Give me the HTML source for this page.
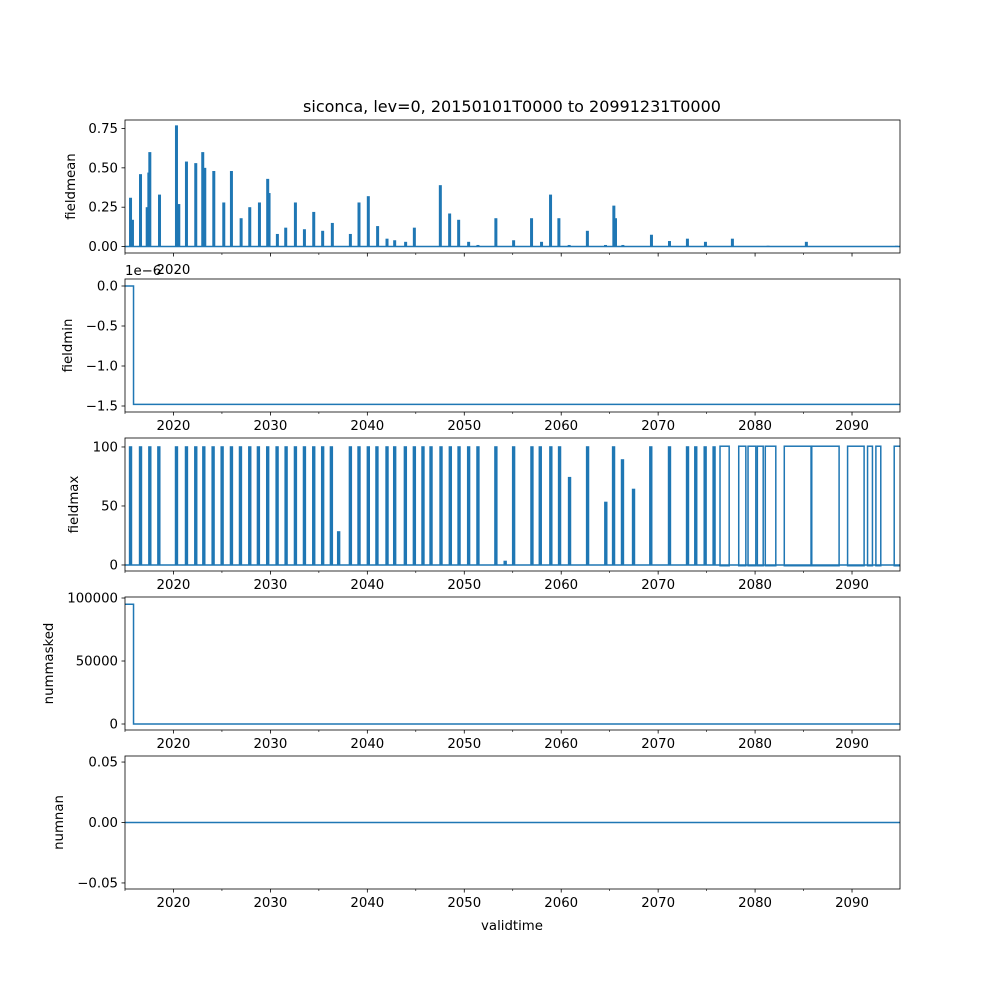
<!DOCTYPE html>
<html><head><meta charset="utf-8"><style>
body{margin:0;background:#fff}
svg{display:block;font-family:"DejaVu Sans","Liberation Sans",sans-serif}
</style></head><body>
<svg id="fig" width="1000" height="1000" viewBox="0 0 1000 1000"></svg>
<script>
// ---- data ----
const meanYears=[2015.57,2015.77,2016.6,2017.29,2017.46,2017.56,2018.56,2020.31,2020.55,2021.34,2022.30,2023.02,2023.23,2024.16,2025.19,2025.98,2026.98,2027.87,2028.87,2029.72,2029.86,2030.72,2031.58,2032.58,2033.51,2034.47,2035.39,2036.39,2038.25,2039.14,2040.10,2041.06,2042.03,2042.82,2043.95,2044.85,2047.53,2048.49,2049.42,2050.45,2051.41,2053.26,2055.09,2056.94,2057.97,2058.9,2059.76,2060.82,2062.7,2064.57,2065.43,2065.6,2066.36,2069.31,2071.17,2073.02,2074.88,2077.66,2081.34,2085.29,2094.6];
const meanValues=[0.31,0.17,0.46,0.25,0.47,0.60,0.33,0.77,0.27,0.54,0.53,0.60,0.50,0.48,0.28,0.48,0.18,0.25,0.28,0.43,0.34,0.08,0.12,0.28,0.11,0.22,0.10,0.15,0.08,0.28,0.32,0.13,0.05,0.04,0.03,0.12,0.39,0.21,0.17,0.03,0.01,0.18,0.04,0.18,0.03,0.33,0.18,0.01,0.10,0.01,0.26,0.18,0.01,0.075,0.035,0.05,0.03,0.05,0.005,0.03,0.005];
const maxPulseYears=[2015.57,2016.6,2017.56,2018.49,2020.31,2021.34,2022.30,2023.13,2024.09,2025.02,2025.98,2026.91,2027.87,2028.76,2029.72,2030.69,2031.62,2032.58,2033.51,2034.47,2035.39,2036.29,2037.04,2038.25,2039.14,2040.10,2040.99,2042.03,2042.82,2043.92,2044.85,2045.74,2046.57,2047.6,2048.56,2049.46,2050.45,2051.41,2053.26,2054.22,2055.09,2056.98,2057.84,2058.93,2059.83,2060.86,2062.72,2064.6,2065.4,2066.32,2067.46,2069.24,2071.17,2073.03,2073.88,2074.85,2075.77];
const maxPulseValues=[100,100,100,100,100,100,100,100,100,100,100,100,100,100,100,100,100,100,100,100,100,100,28,100,100,100,100,100,100,100,100,100,100,100,100,100,100,100,100,3,100,100,100,100,100,74,100,53,100,89,64,100,100,100,100,100,100];
const maxSegStart=[2076.46,2078.39,2079.35,2080.31,2081.13,2083.09,2085.85,2089.62,2091.68,2092.54,2094.43];
const maxSegEnd=[2077.25,2078.97,2080.0,2080.76,2082.06,2085.77,2088.59,2091.17,2092.03,2092.89,2094.95];
const minStepYear=2015.88, minBefore=0, minAfter=-1.48;
const maskStepYear=2015.88, maskBefore=95000, maskAfter=0;
const xTicks=[2020,2030,2040,2050,2060,2070,2080,2090];
const xMinor=[2015,2025,2035,2045,2055,2065,2075,2085];
const meanTicks=[0,0.25,0.5,0.75], meanTickLabels=["0.00","0.25","0.50","0.75"];
const minTicks=[0,-0.5,-1.0,-1.5], minTickLabels=["0.0","−0.5","−1.0","−1.5"];
const maxTicks=[0,50,100], maxTickLabels=["0","50","100"];
const maskTicks=[0,50000,100000], maskTickLabels=["0","50000","100000"];
const nanTicks=[-0.05,0,0.05], nanTickLabels=["−0.05","0.00","0.05"];

// ---- drawing ----
const NS="http://www.w3.org/2000/svg", svg=document.getElementById('fig');
const X0=2015,X1=2094.95,L=125,R=900;
const sx=y=>L+(y-X0)/(X1-X0)*(R-L);
const C="#1f77b4";
function el(tag,attrs,parent){const e=document.createElementNS(NS,tag);for(const k in attrs)e.setAttribute(k,attrs[k]);(parent||svg).appendChild(e);return e;}
function txt(s,attrs,parent){const t=el('text',attrs,parent);t.textContent=s;return t;}
function panel(name,top,bot,ymin,ymax,ticks,labels,ylabel,ylabX,drawFn,showX){
  const g=el('g',{});
  
  
  const sy=v=>bot-(v-ymin)/(ymax-ymin)*(bot-top);
  el('rect',{x:L,y:top,width:R-L,height:bot-top,fill:'#fff'},g);
  const clip=el('clipPath',{id:'c'+name},g);el('rect',{x:L,y:top,width:R-L,height:bot-top},clip);
  const dg=el('g',{'clip-path':'url(#c'+name+')'},g);
  
  
  drawFn(dg,sy);
  el('rect',{x:L,y:top,width:R-L,height:bot-top,fill:'none',stroke:'#000','stroke-width':0.8},g);
  ticks.forEach((v,i)=>{const y=sy(v);el('line',{x1:L-3.5,x2:L,y1:y,y2:y,stroke:'#000','stroke-width':0.8},g);
    const t=txt(labels[i],{x:L-7,y:y+4.5,'text-anchor':'end','font-size':13.3},g);
    
    });
  xTicks.forEach(v=>{const x=sx(v);el('line',{x1:x,x2:x,y1:bot,y2:bot+3.5,stroke:'#000','stroke-width':0.8},g);
    if(showX){const t=txt(String(v),{x:x,y:bot+18,'text-anchor':'middle','font-size':13.3},g);
    
    }});
  xMinor.forEach(v=>{const x=sx(v);el('line',{x1:x,x2:x,y1:bot,y2:bot+2,stroke:'#000','stroke-width':0.6},g);});
  const yl=txt(ylabel,{x:ylabX,y:(top+bot)/2,'text-anchor':'middle','font-size':13.3,transform:`rotate(-90 ${ylabX} ${(top+bot)/2})`},g);
  
  
}
function pathLine(g,pts,w){el('path',{d:'M'+pts.map(p=>p[0].toFixed(2)+','+p[1].toFixed(2)).join('L'),fill:'none',stroke:C,'stroke-width':w||1.5,'stroke-linejoin':'miter'},g);}

const title=txt('siconca, lev=0, 20150101T0000 to 20991231T0000',{x:512,y:112,'text-anchor':'middle','font-size':16});



panel('fieldmean',120,253,-0.041,0.804,meanTicks,meanTickLabels,'fieldmean',75,(g,sy)=>{
  pathLine(g,[[sx(X0),sy(0)],[sx(X1),sy(0)]]);
  meanYears.forEach((yr,i)=>{const x=sx(yr);
    const r=el('rect',{x:x-1.5,y:sy(meanValues[i]),width:3,height:sy(0)-sy(meanValues[i]),fill:C},g);
    
    });
},false);

panel('fieldmin',279,412,-1.575,0.0875,minTicks,minTickLabels,'fieldmin',72,(g,sy)=>{
  pathLine(g,[[sx(X0),sy(minBefore)],[sx(minStepYear),sy(minBefore)],[sx(minStepYear),sy(minAfter)],[sx(X1),sy(minAfter)]]);
},true);
const off=txt('1e−6',{x:125,y:275,'font-size':13.3});


txt('2020',{x:sx(2020),y:274,'text-anchor':'middle','font-size':13.3});

panel('fieldmax',438,571,-5.1,107.6,maxTicks,maxTickLabels,'fieldmax',78,(g,sy)=>{
  pathLine(g,[[sx(X0),sy(0)],[sx(X1),sy(0)]]);
  maxPulseYears.forEach((yr,i)=>{const x=sx(yr);
    const r=el('rect',{x:x-1.7,y:sy(maxPulseValues[i])-0.75,width:3.4,height:sy(0)-sy(maxPulseValues[i])+0.75,fill:C},g);
    
    });
  maxSegStart.forEach((s,i)=>{
    const r=el('rect',{x:sx(s)-0.75,y:sy(100)-0.75,width:sx(maxSegEnd[i])-sx(s)+1.5,height:sy(0)-sy(100)+1.5,fill:'none',stroke:C,'stroke-width':1.5},g);
    
    });
},true);

panel('nummasked',597,730,-4760,100800,maskTicks,maskTickLabels,'nummasked',53,(g,sy)=>{
  pathLine(g,[[sx(X0),sy(maskBefore)],[sx(maskStepYear),sy(maskBefore)],[sx(maskStepYear),sy(maskAfter)],[sx(X1),sy(maskAfter)]]);
},true);

panel('numnan',756,889,-0.055,0.055,nanTicks,nanTickLabels,'numnan',63,(g,sy)=>{
  pathLine(g,[[sx(X0),sy(0)],[sx(X1),sy(0)]]);
},true);

const xl=txt('validtime',{x:512,y:930,'text-anchor':'middle','font-size':13.3});


</script>
</body></html>
